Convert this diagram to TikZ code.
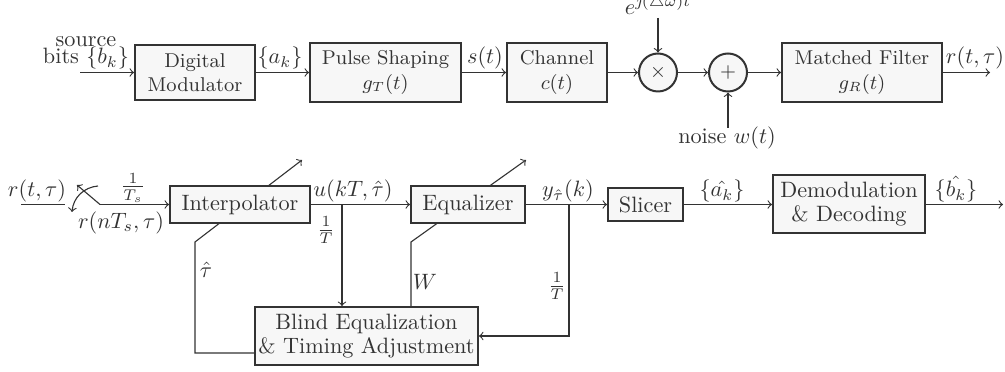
\documentclass[tikz,border=0pt]{standalone}
\usetikzlibrary{backgrounds,calc}
\definecolor{boxfill}{HTML}{F7F7F7}
\definecolor{ink}{HTML}{333333}
\begin{document}
\begin{tikzpicture}[x=0.45pt,y=-0.45pt,>=to,
  blk/.style={draw=ink,line width=0.9pt,fill=boxfill,inner sep=0pt,align=center,text=ink},
  sumnode/.style={draw=ink,line width=0.9pt,fill=boxfill,circle,inner sep=0pt,minimum size=17.1pt,text=ink},
  lbl/.style={inner sep=0pt,text=ink,align=center},
  bl/.style={lbl,anchor=base},
  con/.style={draw=ink,line width=0.5pt,->},
  wire/.style={draw=ink,line width=0.5pt},
  twoline/.style={font=\fontsize{10}{10.8}\selectfont}]
\useasboundingbox (0,0) rectangle (1005,372);

% ---------- top row ----------
\node[blk,font=\small,minimum width=54pt,minimum height=24.75pt] (mod) at (195,72.5) {Digital\\Modulator};
\node[blk,font=\small,minimum width=67.95pt,minimum height=26.55pt] (ps) at (385.5,72.5) {Pulse Shaping\\$g_T(t)$};
\node[blk,font=\small,minimum width=45pt,minimum height=26.55pt] (ch) at (557,72.5) {Channel\\$c(t)$};
\node[sumnode,font=\small] (mul) at (658,72.5) {$\times$};
\node[sumnode,font=\small] (add) at (728,72.5) {$+$};
\node[blk,font=\small,minimum width=72pt,minimum height=26.55pt] (mf) at (862,72.5) {Matched Filter\\$g_R(t)$};

\coordinate (src) at (80,72.5);
\coordinate (out1) at (990,72.5);
\coordinate (expin) at (658,18);
\coordinate (noisein) at (728,128);

\node[bl] (srcl) at (86,47) {source};
\node[bl] (bitsl) at (86,64) {bits $\{b_k\}$};
\node[bl] (akl) at (280,64) {$\{a_k\}$};
\node[bl] (stl) at (485,64) {$s(t)$};
\node[bl] (rtl) at (975,64) {$r(t,\tau)$};
\node[bl] (expl) at (658,15) {$e^{\jmath(\triangle\omega)t}$};
\node[lbl] (noise) at (727,138) {noise $w(t)$};

\draw[con] (src) -- (mod);
\draw[con] (mod) -- (ps);
\draw[con] (ps) -- (ch);
\draw[con] (ch) -- (mul);
\draw[con] (mul) -- (add);
\draw[con] (add) -- (mf);
\draw[con] (mf) -- (out1);
\draw[con] (expin) -- (mul);
\draw[con] (noisein) -- (add);

% ---------- bottom row ----------
\node[blk,minimum width=63pt,minimum height=16.65pt] (interp) at (240,204.5) {Interpolator};
\node[blk,minimum width=51.3pt,minimum height=16.65pt] (eq) at (468,204.5) {Equalizer};
\node[blk,minimum width=33.75pt,minimum height=14.85pt] (slicer) at (645.5,204.5) {Slicer};
\node[blk,twoline,minimum width=68.4pt,minimum height=26.1pt] (demod) at (849,204.5) {Demodulation\\\& Decoding};
\node[blk,twoline,minimum width=100.35pt,minimum height=26.1pt] (blind) at (366.5,336) {Blind Equalization\\\& Timing Adjustment};

\coordinate (in2) at (21,204.5);
\coordinate (swa) at (65,204.5);
\coordinate (swb) at (100,204.5);
\coordinate (swt) at (77,185);
\coordinate (arcs) at (98,186);
\coordinate (arce) at (72,212);
\coordinate (b1) at (342,204.5);
\coordinate (b2) at (569,204.5);
\coordinate (out2) at (1003,204.5);
\coordinate (tauK) at (195,242);
\coordinate (tauT) at (302,160);
\coordinate (wK) at (411,242);
\coordinate (wT) at (526,160);

\node[bl] (rin) at (37,197) {$r(t,\tau)$};
\node[lbl] (tsl) at (133,188) {$\frac{1}{T_s}$};
\node[lbl] (rnl) at (121,223) {$r(nT_s,\tau)$};
\node[bl] (ul) at (353,197) {$u(kT,\hat\tau)$};
\node[lbl] (t1l) at (326,230) {$\frac{1}{T}$};
\node[bl] (yl) at (568,197) {$y_{\hat\tau}(k)$};
\node[lbl] (t2l) at (557,286) {$\frac{1}{T}$};
\node[lbl] (tauhl) at (206,270) {$\hat\tau$};
\node[lbl] (wl) at (425,282) {$W$};
\node[bl] (akh) at (722,197) {$\{\hat{a_k}\}$};
\node[bl] (bkh) at (956,197) {$\{\hat{b_k}\}$};

\draw[wire] (in2) -- (swa);
\draw[con] (swb) -- (swt);
\draw[con] (arcs) to[bend right=40] (arce);
\draw[con] (swb) -- (interp);
\draw[con] (interp) -- (eq);
\draw[con] (b1) -- (b1 |- blind.north);
\draw[con] (eq) -- (slicer);
\draw[con] (b2) |- (blind.east);
\draw[con] (slicer) -- (demod);
\draw[con] (demod) -- (out2);

\begin{pgfonlayer}{background}
\draw[con] ($(blind.west)+(0,17)$) -| (tauK) -- (tauT);
\draw[con] (blind.north -| wK) -- (wK) -- (wT);
\end{pgfonlayer}
\end{tikzpicture}
\end{document}
